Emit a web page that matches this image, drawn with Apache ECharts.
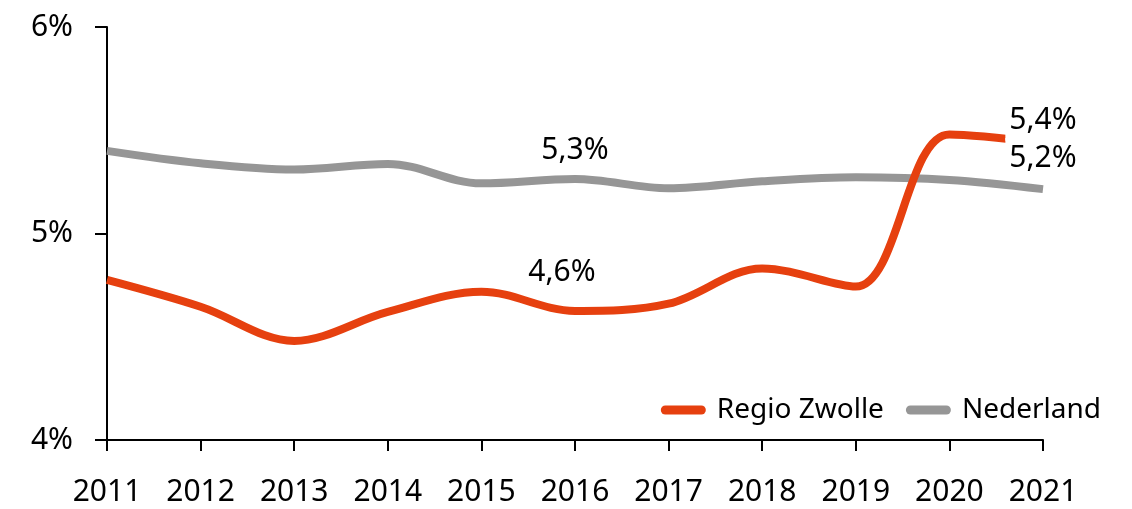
<!DOCTYPE html>
<html lang="nl">
<head>
    <meta charset="UTF-8">
    <title>Regio Zwolle vs Nederland</title>
    <style>
        html, body { margin: 0; padding: 0; background: #fff; }
        #main { width: 1132px; height: 509px; }
    </style>
</head>
<body>
<div id="main"></div>

<script src="https://cdn.jsdelivr.net/npm/echarts@6/dist/echarts.min.js"></script>
<script>
    var years = ['2011', '2012', '2013', '2014', '2015', '2016', '2017', '2018', '2019', '2020', '2021'];
    var regioZwolle = [4.775, 4.645, 4.48, 4.62, 4.718, 4.625, 4.66, 4.831, 4.743, 5.48, 5.44];
    var nederland = [5.40, 5.34, 5.31, 5.337, 5.243, 5.264, 5.219, 5.253, 5.272, 5.259, 5.215];
    var yTicks = [4, 5, 6];

    // punten met een label: index -> tekst
    var zwolleLabels = { 5: '4,6%', 10: '5,4%' };
    var nlLabels = { 5: '5,3%', 10: '5,2%' };

    var FONT = '"Noto Sans", sans-serif';

    function build(values, labels, opts) {
        return values.map(function (v, i) {
            if (!labels[i]) return v;
            return {
                value: v,
                label: {
                    show: true,
                    formatter: labels[i],
                    position: 'top',
                    distance: opts[i].distance,
                    offset: opts[i].offset || [0, 0],
                    backgroundColor: opts[i].bg ? '#fff' : 'transparent',
                    padding: opts[i].bg ? [5, 4] : 0
                }
            };
        });
    }

    var chart = echarts.init(document.getElementById('main'));

    var labelText = {
        color: '#000',
        fontSize: 30,
        fontFamily: FONT
    };

    chart.setOption({
        animation: false,
        grid: { left: 107, right: 89, top: 27, bottom: 69, containLabel: false },
        legend: {
            data: ['Regio Zwolle', 'Nederland'],
            right: 26,
            top: 391,
            itemWidth: 45,
            itemHeight: 9,
            itemGap: 22,
            icon: 'path://M4.5,0 H40.5 A4.5,4.5 0 0 1 40.5,9 H4.5 A4.5,4.5 0 0 1 4.5,0 Z',
            textStyle: { color: '#000', fontSize: 28, fontFamily: FONT, padding: [0, 0, 0, 6] }
        },
        xAxis: {
            type: 'category',
            data: years,
            boundaryGap: false,
            axisLine: { lineStyle: { color: '#000', width: 2 } },
            axisTick: { alignWithLabel: true, length: 11, lineStyle: { color: '#000', width: 2 } },
            axisLabel: { color: '#000', fontSize: 30, fontFamily: FONT, margin: 37 },
            splitLine: { show: false }
        },
        yAxis: {
            type: 'value',
            min: yTicks[0],
            max: yTicks[yTicks.length - 1],
            interval: 1,
            axisLine: { show: true, lineStyle: { color: '#000', width: 2 } },
            axisTick: { show: true, length: 12, lineStyle: { color: '#000', width: 2 } },
            axisLabel: { color: '#000', fontSize: 30, fontFamily: FONT, margin: 34, formatter: '{value}%' },
            splitLine: { show: false }
        },
        series: [
            {
                name: 'Nederland',
                type: 'line',
                smooth: 0.35,
                symbol: 'circle',
                symbolSize: 0,
                showSymbol: true,
                color: '#969696',
                lineStyle: { width: 8, color: '#969696' },
                label: labelText,
                data: build(nederland, nlLabels, {
                    5: { distance: 14 },
                    10: { distance: 11, bg: true }
                })
            },
            {
                name: 'Regio Zwolle',
                type: 'line',
                smooth: 0.35,
                symbol: 'circle',
                symbolSize: 0,
                showSymbol: true,
                color: '#E6400F',
                lineStyle: { width: 8, color: '#E6400F' },
                label: labelText,
                data: build(regioZwolle, zwolleLabels, {
                    5: { distance: 23, offset: [-13, 0] },
                    10: { distance: 2, bg: true }
                })
            }
        ]
    });
</script>
</body>
</html>
